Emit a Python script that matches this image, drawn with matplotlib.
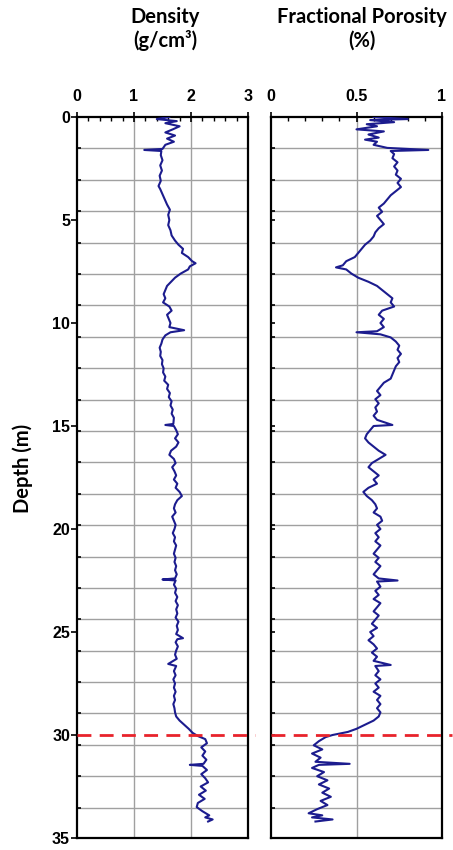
import matplotlib
matplotlib.use("Agg")
import matplotlib.pyplot as plt
import matplotlib.transforms as mtransforms
import numpy as np

# ---------------- data ----------------
dens_depth = [0.0, 0.1, 0.2, 0.3, 0.45, 0.6, 0.75, 0.9, 1.05, 1.2, 1.35, 1.55, 1.6, 1.65, 1.85,
              2.1, 2.35, 2.6, 2.85, 3.1, 3.35, 3.5, 3.75, 4.0, 4.25, 4.5, 4.75, 5.0, 5.25, 5.5,
              5.75, 6.0, 6.2, 6.4, 6.6, 6.8, 7.0, 7.1, 7.25, 7.4, 7.6, 7.8, 8.0, 8.2, 8.4, 8.6,
              8.8, 9.0, 9.2, 9.4, 9.6, 9.8, 10.0, 10.2, 10.35, 10.45, 10.6, 10.8, 11.0, 11.2,
              11.4, 11.6, 11.8, 12.0, 12.2, 12.4, 12.6, 12.8, 13.0, 13.2, 13.4, 13.6, 13.8,
              14.0, 14.2, 14.4, 14.6, 14.9, 14.95, 15.0, 15.2, 15.4, 15.6, 15.8, 16.0, 16.2,
              16.4, 16.6, 16.8, 17.0, 17.2, 17.4, 17.6, 17.8, 18.0, 18.2, 18.4, 18.6, 18.8,
              19.0, 19.2, 19.4, 19.6, 19.8, 20.0, 20.2, 20.4, 20.6, 20.8, 21.0, 21.2, 21.4,
              21.6, 21.8, 22.0, 22.2, 22.4, 22.45, 22.5, 22.7, 22.9, 23.1, 23.3, 23.5, 23.7,
              23.9, 24.1, 24.3, 24.5, 24.7, 24.9, 25.1, 25.3, 25.35, 25.5, 25.7, 25.9, 26.1,
              26.3, 26.55, 26.65, 26.9, 27.1, 27.3, 27.5, 27.7, 27.9, 28.1, 28.3, 28.5, 28.7,
              28.9, 29.1, 29.3, 29.5, 29.7, 29.9, 30.05, 30.2, 30.4, 30.6, 30.8, 31.0, 31.2,
              31.4, 31.45, 31.5, 31.7, 31.9, 32.1, 32.3, 32.5, 32.7, 32.9, 33.1, 33.3, 33.5,
              33.7, 33.9, 34.0, 34.1, 34.2]
dens_value = [1.62, 1.40, 1.75, 1.55, 1.80, 1.68, 1.55, 1.72, 1.58, 1.70, 1.55, 1.50, 1.18, 1.48, 1.47,
              1.50, 1.46, 1.49, 1.45, 1.47, 1.43, 1.46, 1.50, 1.54, 1.58, 1.63, 1.60, 1.62, 1.60, 1.64,
              1.66, 1.72, 1.78, 1.86, 1.84, 1.95, 2.02, 2.08, 1.98, 1.95, 1.82, 1.72, 1.65, 1.58, 1.55, 1.52,
              1.55, 1.51, 1.62, 1.66, 1.58, 1.61, 1.64, 1.62, 1.88, 1.64, 1.55, 1.50, 1.48, 1.45,
              1.47, 1.46, 1.50, 1.49, 1.52, 1.51, 1.55, 1.53, 1.60, 1.58, 1.63, 1.61, 1.66,
              1.64, 1.68, 1.66, 1.70, 1.69, 1.55, 1.70, 1.74, 1.77, 1.72, 1.78, 1.74, 1.65,
              1.62, 1.70, 1.73, 1.67, 1.71, 1.74, 1.70, 1.76, 1.73, 1.80, 1.84, 1.76, 1.72,
              1.70, 1.73, 1.67, 1.70, 1.73, 1.71, 1.68, 1.72, 1.70, 1.74, 1.72, 1.70, 1.73,
              1.71, 1.74, 1.72, 1.75, 1.72, 1.50, 1.73, 1.70, 1.74, 1.72, 1.76, 1.73, 1.77,
              1.74, 1.76, 1.73, 1.78, 1.75, 1.77, 1.74, 1.86, 1.76, 1.73, 1.77, 1.74, 1.72,
              1.75, 1.60, 1.74, 1.70, 1.73, 1.69, 1.72, 1.70, 1.73, 1.70, 1.72, 1.69, 1.71,
              1.72, 1.74, 1.80, 1.88, 1.96, 2.03, 2.12, 2.25, 2.28, 2.18, 2.25, 2.20, 2.27,
              2.22, 1.98, 2.20, 2.28, 2.18, 2.25, 2.30, 2.17, 2.26, 2.14, 2.24, 2.12, 2.10,
              2.20, 2.32, 2.25, 2.38, 2.30]

por_depth = [0.0, 0.1, 0.15, 0.25, 0.35, 0.45, 0.6, 0.7, 0.85, 1.0, 1.1, 1.2, 1.35, 1.5, 1.6, 1.65,
             1.8, 2.0, 2.2, 2.4, 2.6, 2.8, 3.0, 3.2, 3.4, 3.6, 3.8, 4.0, 4.2, 4.4, 4.6, 4.8,
             5.0, 5.2, 5.4, 5.6, 5.8, 6.0, 6.2, 6.4, 6.6, 6.8, 7.0, 7.2, 7.3, 7.4, 7.6, 7.8,
             8.0, 8.2, 8.4, 8.6, 8.8, 9.0, 9.2, 9.4, 9.6, 9.8, 10.0, 10.2, 10.4, 10.45, 10.55,
             10.7, 10.9, 11.1, 11.3, 11.5, 11.7, 11.9, 12.1, 12.3, 12.5, 12.7, 12.9, 13.1,
             13.3, 13.5, 13.7, 13.9, 14.1, 14.3, 14.5, 14.7, 14.95, 15.0, 15.2, 15.4, 15.6,
             15.8, 16.0, 16.2, 16.4, 16.6, 16.8, 17.0, 17.2, 17.4, 17.6, 17.8, 18.0, 18.2,
             18.4, 18.6, 18.8, 19.0, 19.2, 19.4, 19.6, 19.8, 20.0, 20.2, 20.4, 20.6, 20.8,
             21.0, 21.2, 21.4, 21.6, 21.8, 22.0, 22.2, 22.4, 22.5, 22.55, 22.8, 23.0, 23.2,
             23.4, 23.6, 23.8, 24.0, 24.2, 24.4, 24.6, 24.8, 25.0, 25.2, 25.4, 25.6, 25.8,
             26.0, 26.2, 26.4, 26.6, 26.65, 26.9, 27.1, 27.3, 27.5, 27.7, 27.9, 28.1, 28.3,
             28.5, 28.7, 28.9, 29.1, 29.3, 29.5, 29.7, 29.85, 30.0, 30.1, 30.3, 30.5, 30.7,
             30.9, 31.1, 31.3, 31.4, 31.45, 31.6, 31.8, 32.0, 32.2, 32.4, 32.6, 32.8, 33.0,
             33.2, 33.4, 33.6, 33.8, 33.9, 34.0, 34.1, 34.2]
por_value = [0.60, 0.80, 0.58, 0.72, 0.56, 0.62, 0.50, 0.66, 0.57, 0.63, 0.55, 0.62, 0.60, 0.68, 0.92, 0.70,
             0.72, 0.71, 0.74, 0.72, 0.74, 0.73, 0.76, 0.74, 0.76, 0.73, 0.70, 0.68, 0.66, 0.63, 0.65, 0.62,
             0.64, 0.66, 0.63, 0.61, 0.60, 0.58, 0.55, 0.53, 0.51, 0.49, 0.44, 0.42, 0.38, 0.44, 0.47, 0.51,
             0.57, 0.62, 0.65, 0.68, 0.71, 0.70, 0.72, 0.65, 0.63, 0.66, 0.64, 0.66, 0.62, 0.50, 0.64,
             0.70, 0.73, 0.75, 0.74, 0.76, 0.74, 0.75, 0.73, 0.72, 0.71, 0.70, 0.66, 0.64,
             0.62, 0.64, 0.61, 0.63, 0.61, 0.62, 0.60, 0.62, 0.71, 0.60, 0.58, 0.56, 0.55,
             0.57, 0.60, 0.63, 0.67, 0.63, 0.59, 0.57, 0.60, 0.63, 0.60, 0.62, 0.57, 0.54,
             0.56, 0.59, 0.61, 0.62, 0.60, 0.64, 0.65, 0.62, 0.64, 0.61, 0.63, 0.61, 0.64,
             0.62, 0.60, 0.63, 0.61, 0.64, 0.62, 0.60, 0.63, 0.74, 0.62, 0.64, 0.61, 0.63,
             0.60, 0.64, 0.62, 0.60, 0.63, 0.61, 0.59, 0.62, 0.58, 0.60, 0.57, 0.60, 0.62,
             0.59, 0.62, 0.60, 0.70, 0.61, 0.63, 0.61, 0.64, 0.61, 0.63, 0.60, 0.64, 0.62,
             0.64, 0.62, 0.64, 0.63, 0.60, 0.55, 0.50, 0.45, 0.36, 0.32, 0.28, 0.25, 0.30,
             0.24, 0.29, 0.26, 0.46, 0.28, 0.24, 0.31, 0.27, 0.33, 0.28, 0.34, 0.30, 0.35,
             0.29, 0.33, 0.27, 0.22, 0.30, 0.24, 0.36, 0.26]

boundary_depth = 30.0
depth_ticks = [0, 5, 10, 15, 20, 25, 30, 35]
grid_step = 1.524  # 5 ft

dens_ticks = [0, 1, 2, 3]
dens_tick_labels = ["0", "1", "2", "3"]
por_ticks = [0, 0.5, 1]
por_tick_labels = ["0", "0.5", "1"]

title_dens = "Density\n(g/cm³)"
title_por = "Fractional Porosity\n(%)"
ylabel = "Depth (m)"

# ---------------- figure ----------------
W, H = 453, 850
fig = plt.figure(figsize=(W / 100, H / 100), dpi=100)
fig.patch.set_facecolor("white")

bottom = 1 - 838 / H
height = (838 - 117) / H
ax1 = fig.add_axes([77 / W, bottom, (248 - 77) / W, height])
ax2 = fig.add_axes([271 / W, bottom, (442 - 271) / W, height])

line_color = "#1c1c8e"
tick_font = dict(family="Liberation Sans", weight="bold", size=11.5)

gridlines = np.arange(grid_step, 35, grid_step)

def style(ax, xlim, xticks, xlabels, vgrid, minor_step, show_ylabels):
    ax.set_xlim(*xlim)
    ax.set_ylim(35, 0)
    for g in gridlines:
        ax.axhline(g, color="#a0a0a0", lw=1.0, zorder=1)
    for v in vgrid:
        ax.axvline(v, color="#a0a0a0", lw=1.0, zorder=1)
    ax.xaxis.tick_top()
    ax.set_xticks(xticks)
    ax.set_xticklabels(xlabels, fontdict=tick_font)
    ax.set_xticks(np.arange(xlim[0], xlim[1] + 1e-9, minor_step), minor=True)
    ax.tick_params(axis="x", which="major", direction="inout", length=7, width=1.2, pad=6)
    ax.tick_params(axis="x", which="minor", direction="in", length=3, width=1.0)
    ax.set_yticks(depth_ticks)
    ax.set_yticks(gridlines, minor=True)
    ax.tick_params(axis="y", which="major", direction="out", length=4, width=1.2, pad=1)
    ax.tick_params(axis="y", which="minor", direction="in", length=3, width=1.2)
    if show_ylabels:
        ax.set_yticklabels([str(t) for t in depth_ticks], fontdict=tick_font)
    else:
        ax.set_yticklabels([])
        ax.tick_params(axis="y", which="major", direction="in", length=3)
    for s in ax.spines.values():
        s.set_linewidth(1.6)
        s.set_color("black")

style(ax1, (0, 3), dens_ticks, dens_tick_labels, [1, 2], 0.2, True)
style(ax2, (0, 1), por_ticks, por_tick_labels, [0.5], 0.1, False)

ax1.plot(dens_value, dens_depth, color=line_color, lw=1.5, zorder=3)
ax2.plot(por_value, por_depth, color=line_color, lw=1.5, zorder=3)

for ax, xend in ((ax1, 1.04), (ax2, 1.06)):
    trans = mtransforms.blended_transform_factory(ax.transAxes, ax.transData)
    ax.plot([0, xend], [boundary_depth, boundary_depth], transform=trans,
            color="#e8232b", lw=2.0, dashes=(5, 3), clip_on=False, zorder=4)

title_font = dict(family="Lato", weight="bold", size=14.5)
fig.text(165 / W, 1 - 7 / H, title_dens, ha="center", va="top", linespacing=1.2, **title_font)
fig.text(362 / W, 1 - 7 / H, title_por, ha="center", va="top", linespacing=1.2, **title_font)
fig.text(23 / W, 1 - 468 / H, ylabel, ha="center", va="center", rotation=90, **title_font)

fig.savefig("out.png", dpi=100)
